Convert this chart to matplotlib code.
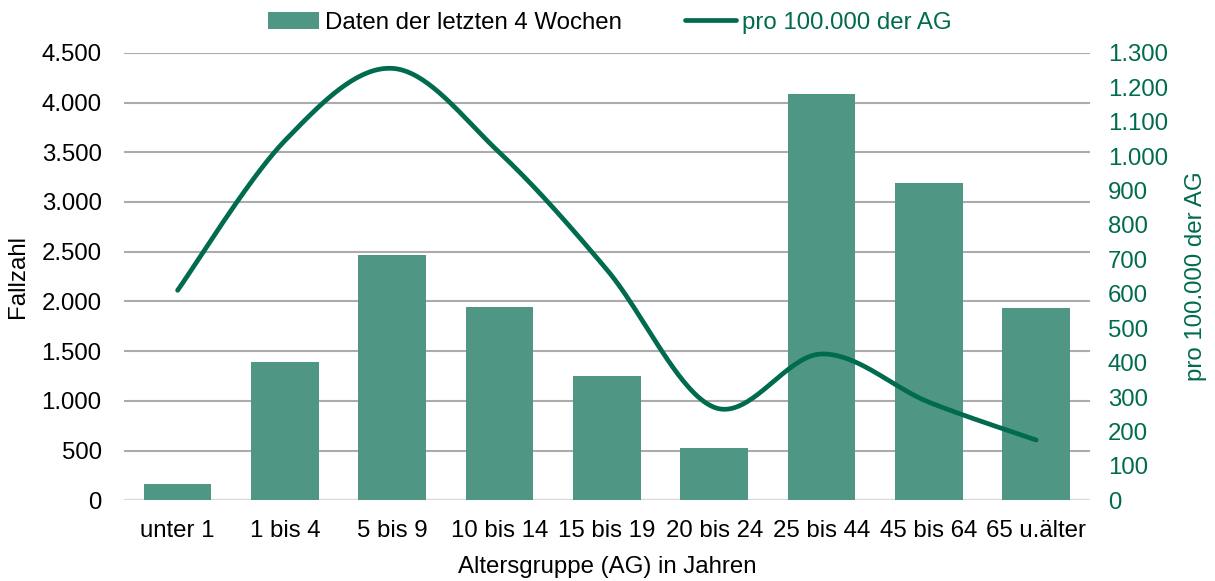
import numpy as np
import matplotlib
matplotlib.use("Agg")
import matplotlib.pyplot as plt
from matplotlib.ticker import FuncFormatter, MultipleLocator

plt.rcParams['font.family'] = ['Liberation Sans', 'DejaVu Sans']

# data
categories = ["unter 1", "1 bis 4", "5 bis 9", "10 bis 14", "15 bis 19",
              "20 bis 24", "25 bis 44", "45 bis 64", "65 u.älter"]
fallzahl = [160, 1390, 2470, 1940, 1250, 530, 4090, 3190, 1930]
pro_100k = [610, 1045, 1255, 1010, 670, 270, 425, 285, 175]

BAR = "#4F9685"
LINE = "#006B4E"
GRID = "#ABABAB"
FS = 17.3


def de_fmt(v, pos):
    return f"{int(round(v)):,}".replace(",", ".")


def smooth(xs, ys, n=40):
    # Excel-like smoothed line (Catmull-Rom bezier)
    xs = np.asarray(xs, float); ys = np.asarray(ys, float)
    px = np.concatenate([[xs[0]], xs, [xs[-1]]])
    py = np.concatenate([[ys[0]], ys, [ys[-1]]])
    outx, outy = [], []
    t = np.linspace(0, 1, n)
    for i in range(1, len(px) - 2):
        p0 = np.array([px[i], py[i]])
        p3 = np.array([px[i + 1], py[i + 1]])
        c1 = p0 + (p3 - np.array([px[i - 1], py[i - 1]])) / 6
        c2 = p3 - (np.array([px[i + 2], py[i + 2]]) - p0) / 6
        b = ((1 - t) ** 3)[:, None] * p0 + (3 * (1 - t) ** 2 * t)[:, None] * c1 \
            + (3 * (1 - t) * t ** 2)[:, None] * c2 + (t ** 3)[:, None] * p3
        outx.extend(b[:, 0]); outy.extend(b[:, 1])
    return outx, outy


fig = plt.figure(figsize=(12.15, 5.81), dpi=100)
ax = fig.add_axes([0.102, 0.139, 0.795, 0.770])
ax2 = ax.twinx()

x = np.arange(len(categories))
ax.bar(x, fallzahl, width=0.63, color=BAR, zorder=2,
       label="Daten der letzten 4 Wochen")
sx, sy = smooth(x, pro_100k)
ax2.plot(sx, sy, color=LINE, lw=3.4, solid_capstyle="round",
         label="pro 100.000 der AG")

ax.set_xlim(-0.5, len(categories) - 0.5)
ax.set_ylim(0, 4500)
ax2.set_ylim(0, 1300)
ax.yaxis.set_major_locator(MultipleLocator(500))
ax2.yaxis.set_major_locator(MultipleLocator(100))
ax.yaxis.set_major_formatter(FuncFormatter(de_fmt))
ax2.yaxis.set_major_formatter(FuncFormatter(de_fmt))

ax.grid(axis="y", color=GRID, lw=1.5, zorder=0)
ax.set_axisbelow(True)
for a in (ax, ax2):
    for s in ("top", "right", "left", "bottom"):
        a.spines[s].set_visible(False)
ax.axhline(0, color="#D9D9D9", lw=1.5, zorder=1)

ax.set_xticks(x)
ax.set_xticklabels(categories)
ax.tick_params(axis="x", length=0, labelsize=FS, pad=14)
ax.tick_params(axis="y", length=0, labelsize=FS, pad=16)
ax2.tick_params(axis="y", length=0, labelsize=FS, pad=13, labelcolor=LINE)

ax.set_ylabel("Fallzahl", fontsize=FS, labelpad=9)
ax2.set_ylabel("pro 100.000 der AG", fontsize=FS, color=LINE, labelpad=12)
ax.set_xlabel("Altersgruppe (AG) in Jahren", fontsize=FS, labelpad=10)

h1, l1 = ax.get_legend_handles_labels()
h2, l2 = ax2.get_legend_handles_labels()
leg = fig.legend(h1 + h2, l1 + l2, loc="center", bbox_to_anchor=(0.502, 0.961),
                 ncol=2, frameon=False, fontsize=FS, handlelength=2.15,
                 handletextpad=0.25, columnspacing=2.6, borderpad=0)
leg.get_texts()[1].set_color(LINE)

fig.savefig("out.png", dpi=100)
